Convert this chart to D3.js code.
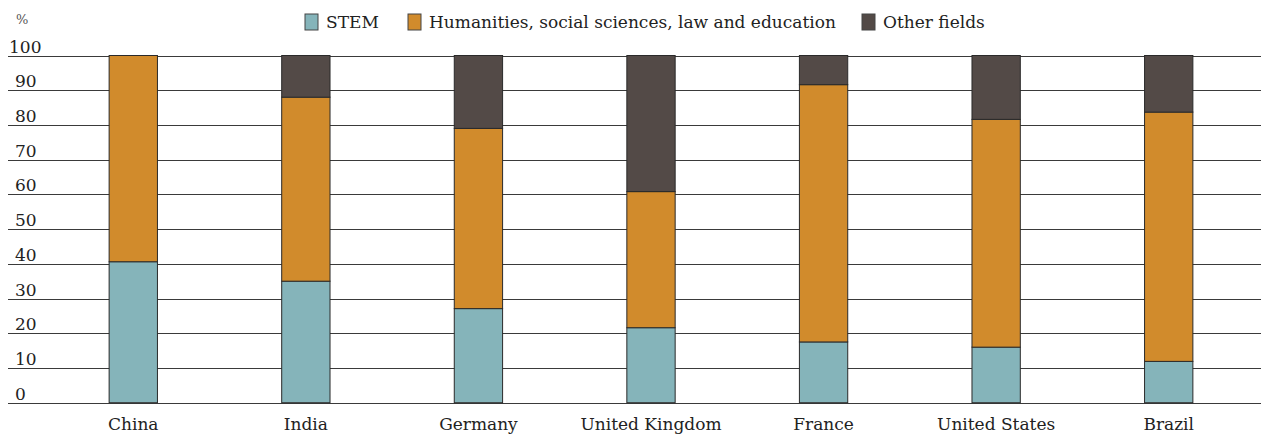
<!DOCTYPE html>
<html>
<head>
<meta charset="utf-8">
<script src="https://cdn.jsdelivr.net/npm/d3@7"></script>
<style>
  body { margin: 0; background: #fff; }
  text { font-family: "DejaVu Serif", serif; fill: #222; }
</style>
</head>
<body>
<svg id="chart" width="1261" height="434"></svg>
<script>
// Share of graduates by field of study (%)
const countries = ["China", "India", "Germany", "United Kingdom", "France", "United States", "Brazil"];
const stem = [40.6, 35, 27.1, 21.6, 17.5, 16, 11.9];
const humanities = [59.4, 53, 51.9, 39.2, 74.1, 65.6, 71.8];
const other = [0, 12, 21, 39.2, 8.4, 18.4, 16.3];
const fields = ["STEM", "Humanities, social sciences, law and education", "Other fields"];
const yTicks = [0, 10, 20, 30, 40, 50, 60, 70, 80, 90, 100];

const fieldColors = ["#85b4ba", "#d18b2c", "#534a47"];

const svg = d3.select('#chart');
const plotLeft = 8, plotRight = 1261;

const x = d3.scaleBand()
    .domain(countries)
    .range([47, 1255])
    .paddingInner(0.72)
    .paddingOuter(0.36);

const y = d3.scaleLinear()
    .domain([0, 100])
    .range([402.7, 55.5]);

// gridlines
svg.append('g')
    .selectAll('line')
    .data(yTicks)
    .join('line')
    .attr('x1', plotLeft)
    .attr('x2', plotRight)
    .attr('y1', d => Math.round(y(d)) + 0.5)
    .attr('y2', d => Math.round(y(d)) + 0.5)
    .style('stroke', '#3a3a3a')
    .style('stroke-width', 1.2);

// y labels, sitting above each line
svg.append('g')
    .selectAll('text')
    .data(yTicks)
    .join('text')
    .attr('x', d => d === 100 ? 9 : 15)
    .attr('y', d => y(d) - 3)
    .style('font-size', '17px')
    .text(d => d);

svg.append('text')
    .attr('x', 16)
    .attr('y', 24)
    .style('font-size', '13px')
    .style('fill', '#555')
    .text('%');

// stacked bars
const rows = countries.map((c, i) => ({country: c, 0: stem[i], 1: humanities[i], 2: other[i]}));
const stack = d3.stack().keys([0, 1, 2]);
const series = stack(rows);

svg.append('g')
    .selectAll('g')
    .data(series)
    .join('g')
    .style('fill', (d, i) => fieldColors[i])
    .selectAll('rect')
    .data(d => d.filter(s => s[1] - s[0] > 0))
    .join('rect')
    .attr('x', d => x(d.data.country))
    .attr('width', x.bandwidth())
    .attr('y', d => y(d[1]))
    .attr('height', d => y(d[0]) - y(d[1]))
    .style('stroke', '#2a2a2a')
    .style('stroke-width', 1);

// x axis labels
svg.append('g')
    .selectAll('text')
    .data(countries)
    .join('text')
    .attr('x', d => x(d) + x.bandwidth() / 2)
    .attr('y', 430)
    .attr('text-anchor', 'middle')
    .style('font-size', '17px')
    .text(d => d);

// legend
const legendX = [305, 408, 862];
const legend = svg.append('g')
    .selectAll('g')
    .data(fields)
    .join('g')
    .attr('transform', (d, i) => `translate(${legendX[i]},14)`);

legend.append('rect')
    .attr('width', 13)
    .attr('height', 16)
    .style('fill', (d, i) => fieldColors[i])
    .style('stroke', '#444')
    .style('stroke-width', 1);

legend.append('text')
    .attr('x', 21)
    .attr('y', 14)
    .style('font-size', '17px')
    .text(d => d);
</script>
</body>
</html>
